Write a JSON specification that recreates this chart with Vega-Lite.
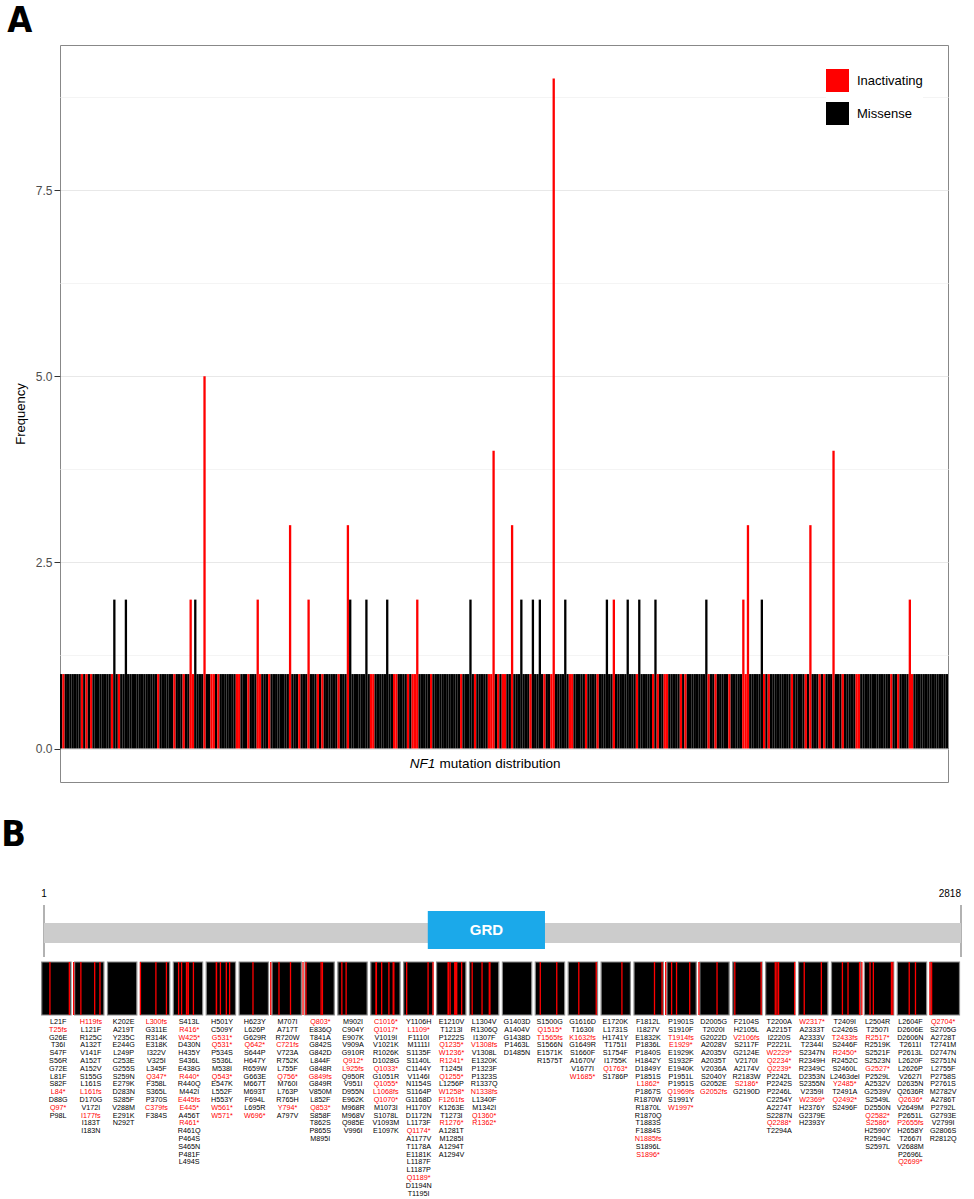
{
"$schema": "https://vega.github.io/schema/vega-lite/v6.json",
"padding": {"left": 1, "top": 2, "right": 5, "bottom": 0},
"background": "white",
"config": {"view": {"stroke": null}, "font": "Liberation Sans, Arial, sans-serif"},
"datasets": {"muts": [
{"region":1,"mut":"L21F","pos":21,"type":"Missense","freq":1},{"region":1,"mut":"T25fs","pos":25,"type":"Inactivating","freq":1},{"region":1,"mut":"G26E","pos":26,"type":"Missense","freq":1},{"region":1,"mut":"T36I","pos":36,"type":"Missense","freq":1},{"region":1,"mut":"S47F","pos":47,"type":"Missense","freq":1},{"region":1,"mut":"S56R","pos":56,"type":"Missense","freq":1},{"region":1,"mut":"G72E","pos":72,"type":"Missense","freq":1},{"region":1,"mut":"L81F","pos":81,"type":"Missense","freq":1},{"region":1,"mut":"S82F","pos":82,"type":"Missense","freq":1},{"region":1,"mut":"L84*","pos":84,"type":"Inactivating","freq":1},{"region":1,"mut":"D88G","pos":88,"type":"Missense","freq":1},{"region":1,"mut":"Q97*","pos":97,"type":"Inactivating","freq":1},{"region":1,"mut":"P98L","pos":98,"type":"Missense","freq":1},
{"region":2,"mut":"H119fs","pos":119,"type":"Inactivating","freq":1},{"region":2,"mut":"L121F","pos":121,"type":"Missense","freq":1},{"region":2,"mut":"R125C","pos":125,"type":"Missense","freq":1},{"region":2,"mut":"A132T","pos":132,"type":"Missense","freq":1},{"region":2,"mut":"V141F","pos":141,"type":"Missense","freq":1},{"region":2,"mut":"A152T","pos":152,"type":"Missense","freq":1},{"region":2,"mut":"A152V","pos":152,"type":"Missense","freq":1},{"region":2,"mut":"S155G","pos":155,"type":"Missense","freq":1},{"region":2,"mut":"L161S","pos":161,"type":"Missense","freq":1},{"region":2,"mut":"L161fs","pos":161,"type":"Inactivating","freq":1},{"region":2,"mut":"D170G","pos":170,"type":"Missense","freq":2},{"region":2,"mut":"V172I","pos":172,"type":"Missense","freq":1},{"region":2,"mut":"I177fs","pos":177,"type":"Inactivating","freq":1},{"region":2,"mut":"I183T","pos":183,"type":"Missense","freq":1},{"region":2,"mut":"I183N","pos":183,"type":"Missense","freq":1},
{"region":3,"mut":"K202E","pos":202,"type":"Missense","freq":2},{"region":3,"mut":"A219T","pos":219,"type":"Missense","freq":1},{"region":3,"mut":"Y235C","pos":235,"type":"Missense","freq":1},{"region":3,"mut":"E244G","pos":244,"type":"Missense","freq":1},{"region":3,"mut":"L249P","pos":249,"type":"Missense","freq":1},{"region":3,"mut":"C253E","pos":253,"type":"Missense","freq":1},{"region":3,"mut":"G255S","pos":255,"type":"Missense","freq":1},{"region":3,"mut":"S259N","pos":259,"type":"Missense","freq":1},{"region":3,"mut":"E279K","pos":279,"type":"Missense","freq":1},{"region":3,"mut":"D283N","pos":283,"type":"Missense","freq":1},{"region":3,"mut":"S285F","pos":285,"type":"Missense","freq":1},{"region":3,"mut":"V288M","pos":288,"type":"Missense","freq":1},{"region":3,"mut":"E291K","pos":291,"type":"Missense","freq":1},{"region":3,"mut":"N292T","pos":292,"type":"Missense","freq":1},
{"region":4,"mut":"L300fs","pos":300,"type":"Inactivating","freq":1},{"region":4,"mut":"G311E","pos":311,"type":"Missense","freq":1},{"region":4,"mut":"R314K","pos":314,"type":"Missense","freq":1},{"region":4,"mut":"E318K","pos":318,"type":"Missense","freq":1},{"region":4,"mut":"I322V","pos":322,"type":"Missense","freq":1},{"region":4,"mut":"V325I","pos":325,"type":"Missense","freq":1},{"region":4,"mut":"L345F","pos":345,"type":"Missense","freq":1},{"region":4,"mut":"Q347*","pos":347,"type":"Inactivating","freq":1},{"region":4,"mut":"F358L","pos":358,"type":"Missense","freq":1},{"region":4,"mut":"S365L","pos":365,"type":"Missense","freq":1},{"region":4,"mut":"P370S","pos":370,"type":"Missense","freq":1},{"region":4,"mut":"C379fs","pos":379,"type":"Inactivating","freq":1},{"region":4,"mut":"F384S","pos":384,"type":"Missense","freq":1},
{"region":5,"mut":"S413L","pos":413,"type":"Missense","freq":1},{"region":5,"mut":"R416*","pos":416,"type":"Inactivating","freq":2},{"region":5,"mut":"W425*","pos":425,"type":"Inactivating","freq":1},{"region":5,"mut":"D430N","pos":430,"type":"Missense","freq":2},{"region":5,"mut":"H435Y","pos":435,"type":"Missense","freq":1},{"region":5,"mut":"S436L","pos":436,"type":"Missense","freq":1},{"region":5,"mut":"E438G","pos":438,"type":"Missense","freq":1},{"region":5,"mut":"R440*","pos":440,"type":"Inactivating","freq":5},{"region":5,"mut":"R440Q","pos":440,"type":"Missense","freq":1},{"region":5,"mut":"M442I","pos":442,"type":"Missense","freq":1},{"region":5,"mut":"E445fs","pos":445,"type":"Inactivating","freq":1},{"region":5,"mut":"E445*","pos":445,"type":"Inactivating","freq":1},{"region":5,"mut":"A456T","pos":456,"type":"Missense","freq":1},{"region":5,"mut":"R461*","pos":461,"type":"Inactivating","freq":1},{"region":5,"mut":"R461Q","pos":461,"type":"Missense","freq":1},{"region":5,"mut":"P464S","pos":464,"type":"Missense","freq":1},{"region":5,"mut":"S465N","pos":465,"type":"Missense","freq":1},{"region":5,"mut":"P481F","pos":481,"type":"Missense","freq":1},{"region":5,"mut":"L494S","pos":494,"type":"Missense","freq":1},
{"region":6,"mut":"H501Y","pos":501,"type":"Missense","freq":1},{"region":6,"mut":"C509Y","pos":509,"type":"Missense","freq":1},{"region":6,"mut":"G531*","pos":531,"type":"Inactivating","freq":1},{"region":6,"mut":"Q531*","pos":531,"type":"Inactivating","freq":1},{"region":6,"mut":"P534S","pos":534,"type":"Missense","freq":1},{"region":6,"mut":"S536L","pos":536,"type":"Missense","freq":1},{"region":6,"mut":"M538I","pos":538,"type":"Missense","freq":1},{"region":6,"mut":"Q543*","pos":543,"type":"Inactivating","freq":1},{"region":6,"mut":"E547K","pos":547,"type":"Missense","freq":1},{"region":6,"mut":"L552F","pos":552,"type":"Missense","freq":1},{"region":6,"mut":"H553Y","pos":553,"type":"Missense","freq":1},{"region":6,"mut":"W561*","pos":561,"type":"Inactivating","freq":2},{"region":6,"mut":"W571*","pos":571,"type":"Inactivating","freq":1},
{"region":7,"mut":"H623Y","pos":623,"type":"Missense","freq":1},{"region":7,"mut":"L626P","pos":626,"type":"Missense","freq":1},{"region":7,"mut":"G629R","pos":629,"type":"Missense","freq":1},{"region":7,"mut":"Q642*","pos":642,"type":"Inactivating","freq":1},{"region":7,"mut":"S644P","pos":644,"type":"Missense","freq":1},{"region":7,"mut":"H647Y","pos":647,"type":"Missense","freq":1},{"region":7,"mut":"R659W","pos":659,"type":"Missense","freq":1},{"region":7,"mut":"G663E","pos":663,"type":"Missense","freq":1},{"region":7,"mut":"M667T","pos":667,"type":"Missense","freq":1},{"region":7,"mut":"M693T","pos":693,"type":"Missense","freq":1},{"region":7,"mut":"F694L","pos":694,"type":"Missense","freq":1},{"region":7,"mut":"L695R","pos":695,"type":"Missense","freq":1},{"region":7,"mut":"W696*","pos":696,"type":"Inactivating","freq":3},
{"region":8,"mut":"M707I","pos":707,"type":"Missense","freq":1},{"region":8,"mut":"A717T","pos":717,"type":"Missense","freq":1},{"region":8,"mut":"R720W","pos":720,"type":"Missense","freq":1},{"region":8,"mut":"C721fs","pos":721,"type":"Inactivating","freq":1},{"region":8,"mut":"V723A","pos":723,"type":"Missense","freq":1},{"region":8,"mut":"R752K","pos":752,"type":"Missense","freq":1},{"region":8,"mut":"L755F","pos":755,"type":"Missense","freq":1},{"region":8,"mut":"Q756*","pos":756,"type":"Inactivating","freq":2},{"region":8,"mut":"M760I","pos":760,"type":"Missense","freq":1},{"region":8,"mut":"L763P","pos":763,"type":"Missense","freq":1},{"region":8,"mut":"R765H","pos":765,"type":"Missense","freq":1},{"region":8,"mut":"Y794*","pos":794,"type":"Inactivating","freq":1},{"region":8,"mut":"A797V","pos":797,"type":"Missense","freq":1},
{"region":9,"mut":"Q803*","pos":803,"type":"Inactivating","freq":1},{"region":9,"mut":"E836Q","pos":836,"type":"Missense","freq":1},{"region":9,"mut":"T841A","pos":841,"type":"Missense","freq":1},{"region":9,"mut":"G842S","pos":842,"type":"Missense","freq":1},{"region":9,"mut":"G842D","pos":842,"type":"Missense","freq":1},{"region":9,"mut":"L844F","pos":844,"type":"Missense","freq":1},{"region":9,"mut":"G848R","pos":848,"type":"Missense","freq":1},{"region":9,"mut":"G849fs","pos":849,"type":"Inactivating","freq":1},{"region":9,"mut":"G849R","pos":849,"type":"Missense","freq":1},{"region":9,"mut":"V850M","pos":850,"type":"Missense","freq":1},{"region":9,"mut":"L852F","pos":852,"type":"Missense","freq":1},{"region":9,"mut":"Q853*","pos":853,"type":"Inactivating","freq":3},{"region":9,"mut":"S858F","pos":858,"type":"Missense","freq":2},{"region":9,"mut":"T862S","pos":862,"type":"Missense","freq":1},{"region":9,"mut":"P865S","pos":865,"type":"Missense","freq":1},{"region":9,"mut":"M895I","pos":895,"type":"Missense","freq":1},
{"region":10,"mut":"M902I","pos":902,"type":"Missense","freq":1},{"region":10,"mut":"C904Y","pos":904,"type":"Missense","freq":1},{"region":10,"mut":"E907K","pos":907,"type":"Missense","freq":1},{"region":10,"mut":"V909A","pos":909,"type":"Missense","freq":2},{"region":10,"mut":"G910R","pos":910,"type":"Missense","freq":1},{"region":10,"mut":"Q912*","pos":912,"type":"Inactivating","freq":1},{"region":10,"mut":"L925fs","pos":925,"type":"Inactivating","freq":1},{"region":10,"mut":"Q950R","pos":950,"type":"Missense","freq":1},{"region":10,"mut":"V951I","pos":951,"type":"Missense","freq":1},{"region":10,"mut":"D955N","pos":955,"type":"Missense","freq":1},{"region":10,"mut":"E962K","pos":962,"type":"Missense","freq":1},{"region":10,"mut":"M968R","pos":968,"type":"Missense","freq":1},{"region":10,"mut":"M968V","pos":968,"type":"Missense","freq":2},{"region":10,"mut":"Q985E","pos":985,"type":"Missense","freq":1},{"region":10,"mut":"V996I","pos":996,"type":"Missense","freq":1},
{"region":11,"mut":"C1016*","pos":1016,"type":"Inactivating","freq":1},{"region":11,"mut":"Q1017*","pos":1017,"type":"Inactivating","freq":1},{"region":11,"mut":"V1019I","pos":1019,"type":"Missense","freq":1},{"region":11,"mut":"V1021K","pos":1021,"type":"Missense","freq":1},{"region":11,"mut":"R1026K","pos":1026,"type":"Missense","freq":1},{"region":11,"mut":"D1028G","pos":1028,"type":"Missense","freq":1},{"region":11,"mut":"Q1033*","pos":1033,"type":"Inactivating","freq":1},{"region":11,"mut":"G1051R","pos":1051,"type":"Missense","freq":1},{"region":11,"mut":"Q1055*","pos":1055,"type":"Inactivating","freq":1},{"region":11,"mut":"L1068fs","pos":1068,"type":"Inactivating","freq":1},{"region":11,"mut":"Q1070*","pos":1070,"type":"Inactivating","freq":2},{"region":11,"mut":"M1073I","pos":1073,"type":"Missense","freq":1},{"region":11,"mut":"S1078L","pos":1078,"type":"Missense","freq":1},{"region":11,"mut":"V1093M","pos":1093,"type":"Missense","freq":1},{"region":11,"mut":"E1097K","pos":1097,"type":"Missense","freq":1},
{"region":12,"mut":"Y1106H","pos":1106,"type":"Missense","freq":1},{"region":12,"mut":"L1109*","pos":1109,"type":"Inactivating","freq":1},{"region":12,"mut":"F1110I","pos":1110,"type":"Missense","freq":1},{"region":12,"mut":"M1111I","pos":1111,"type":"Missense","freq":1},{"region":12,"mut":"S1135F","pos":1135,"type":"Missense","freq":1},{"region":12,"mut":"S1140L","pos":1140,"type":"Missense","freq":1},{"region":12,"mut":"C1144Y","pos":1144,"type":"Missense","freq":1},{"region":12,"mut":"V1146I","pos":1146,"type":"Missense","freq":1},{"region":12,"mut":"N1154S","pos":1154,"type":"Missense","freq":1},{"region":12,"mut":"S1164P","pos":1164,"type":"Missense","freq":1},{"region":12,"mut":"G1168D","pos":1168,"type":"Missense","freq":1},{"region":12,"mut":"H1170Y","pos":1170,"type":"Missense","freq":1},{"region":12,"mut":"D1172N","pos":1172,"type":"Missense","freq":1},{"region":12,"mut":"L1173F","pos":1173,"type":"Missense","freq":1},{"region":12,"mut":"Q1174*","pos":1174,"type":"Inactivating","freq":1},{"region":12,"mut":"A1177V","pos":1177,"type":"Missense","freq":1},{"region":12,"mut":"T1178A","pos":1178,"type":"Missense","freq":1},{"region":12,"mut":"E1181K","pos":1181,"type":"Missense","freq":1},{"region":12,"mut":"L1187F","pos":1187,"type":"Missense","freq":2},{"region":12,"mut":"L1187P","pos":1187,"type":"Missense","freq":1},{"region":12,"mut":"Q1189*","pos":1189,"type":"Inactivating","freq":1},{"region":12,"mut":"D1194N","pos":1194,"type":"Missense","freq":1},{"region":12,"mut":"T1195I","pos":1195,"type":"Missense","freq":1},
{"region":13,"mut":"E1210V","pos":1210,"type":"Missense","freq":1},{"region":13,"mut":"T1213I","pos":1213,"type":"Missense","freq":1},{"region":13,"mut":"P1222S","pos":1222,"type":"Missense","freq":1},{"region":13,"mut":"Q1235*","pos":1235,"type":"Inactivating","freq":1},{"region":13,"mut":"W1236*","pos":1236,"type":"Inactivating","freq":1},{"region":13,"mut":"R1241*","pos":1241,"type":"Inactivating","freq":4},{"region":13,"mut":"T1245I","pos":1245,"type":"Missense","freq":1},{"region":13,"mut":"Q1255*","pos":1255,"type":"Inactivating","freq":1},{"region":13,"mut":"L1256P","pos":1256,"type":"Missense","freq":1},{"region":13,"mut":"W1258*","pos":1258,"type":"Inactivating","freq":1},{"region":13,"mut":"F1261fs","pos":1261,"type":"Inactivating","freq":1},{"region":13,"mut":"K1263E","pos":1263,"type":"Missense","freq":1},{"region":13,"mut":"T1273I","pos":1273,"type":"Missense","freq":1},{"region":13,"mut":"R1276*","pos":1276,"type":"Inactivating","freq":3},{"region":13,"mut":"A1281T","pos":1281,"type":"Missense","freq":1},{"region":13,"mut":"M1285I","pos":1285,"type":"Missense","freq":1},{"region":13,"mut":"A1294T","pos":1294,"type":"Missense","freq":1},{"region":13,"mut":"A1294V","pos":1294,"type":"Missense","freq":2},
{"region":14,"mut":"L1304V","pos":1304,"type":"Missense","freq":1},{"region":14,"mut":"R1306Q","pos":1306,"type":"Missense","freq":1},{"region":14,"mut":"I1307F","pos":1307,"type":"Missense","freq":1},{"region":14,"mut":"V1308fs","pos":1308,"type":"Inactivating","freq":1},{"region":14,"mut":"V1308L","pos":1308,"type":"Missense","freq":2},{"region":14,"mut":"E1320K","pos":1320,"type":"Missense","freq":1},{"region":14,"mut":"P1323F","pos":1323,"type":"Missense","freq":1},{"region":14,"mut":"P1323S","pos":1323,"type":"Missense","freq":2},{"region":14,"mut":"R1337Q","pos":1337,"type":"Missense","freq":1},{"region":14,"mut":"N1338fs","pos":1338,"type":"Inactivating","freq":1},{"region":14,"mut":"L1340F","pos":1340,"type":"Missense","freq":1},{"region":14,"mut":"M1342I","pos":1342,"type":"Missense","freq":1},{"region":14,"mut":"Q1360*","pos":1360,"type":"Inactivating","freq":1},{"region":14,"mut":"R1362*","pos":1362,"type":"Inactivating","freq":9},
{"region":15,"mut":"G1403D","pos":1403,"type":"Missense","freq":1},{"region":15,"mut":"A1404V","pos":1404,"type":"Missense","freq":1},{"region":15,"mut":"G1438D","pos":1438,"type":"Missense","freq":1},{"region":15,"mut":"P1463L","pos":1463,"type":"Missense","freq":1},{"region":15,"mut":"D1485N","pos":1485,"type":"Missense","freq":2},
{"region":16,"mut":"S1500G","pos":1500,"type":"Missense","freq":1},{"region":16,"mut":"Q1515*","pos":1515,"type":"Inactivating","freq":1},{"region":16,"mut":"T1565fs","pos":1565,"type":"Inactivating","freq":1},{"region":16,"mut":"S1566N","pos":1566,"type":"Missense","freq":1},{"region":16,"mut":"E1571K","pos":1571,"type":"Missense","freq":1},{"region":16,"mut":"R1575T","pos":1575,"type":"Missense","freq":1},
{"region":17,"mut":"G1616D","pos":1616,"type":"Missense","freq":1},{"region":17,"mut":"T1630I","pos":1630,"type":"Missense","freq":1},{"region":17,"mut":"K1632fs","pos":1632,"type":"Inactivating","freq":1},{"region":17,"mut":"G1649R","pos":1649,"type":"Missense","freq":1},{"region":17,"mut":"S1660F","pos":1660,"type":"Missense","freq":1},{"region":17,"mut":"A1670V","pos":1670,"type":"Missense","freq":1},{"region":17,"mut":"V1677I","pos":1677,"type":"Missense","freq":1},{"region":17,"mut":"W1685*","pos":1685,"type":"Inactivating","freq":1},
{"region":18,"mut":"E1720K","pos":1720,"type":"Missense","freq":1},{"region":18,"mut":"L1731S","pos":1731,"type":"Missense","freq":1},{"region":18,"mut":"H1741Y","pos":1741,"type":"Missense","freq":1},{"region":18,"mut":"T1751I","pos":1751,"type":"Missense","freq":2},{"region":18,"mut":"S1754F","pos":1754,"type":"Missense","freq":1},{"region":18,"mut":"I1755K","pos":1755,"type":"Missense","freq":1},{"region":18,"mut":"Q1763*","pos":1763,"type":"Inactivating","freq":2},{"region":18,"mut":"S1786P","pos":1786,"type":"Missense","freq":1},
{"region":19,"mut":"F1812L","pos":1812,"type":"Missense","freq":1},{"region":19,"mut":"I1827V","pos":1827,"type":"Missense","freq":1},{"region":19,"mut":"E1832K","pos":1832,"type":"Missense","freq":1},{"region":19,"mut":"P1836L","pos":1836,"type":"Missense","freq":1},{"region":19,"mut":"P1840S","pos":1840,"type":"Missense","freq":2},{"region":19,"mut":"H1842Y","pos":1842,"type":"Missense","freq":1},{"region":19,"mut":"D1849Y","pos":1849,"type":"Missense","freq":1},{"region":19,"mut":"P1851S","pos":1851,"type":"Missense","freq":1},{"region":19,"mut":"L1862*","pos":1862,"type":"Inactivating","freq":1},{"region":19,"mut":"P1867S","pos":1867,"type":"Missense","freq":2},{"region":19,"mut":"R1870W","pos":1870,"type":"Missense","freq":1},{"region":19,"mut":"R1870L","pos":1870,"type":"Missense","freq":1},{"region":19,"mut":"R1870Q","pos":1870,"type":"Missense","freq":1},{"region":19,"mut":"T1883S","pos":1883,"type":"Missense","freq":1},{"region":19,"mut":"F1884S","pos":1884,"type":"Missense","freq":1},{"region":19,"mut":"N1885fs","pos":1885,"type":"Inactivating","freq":1},{"region":19,"mut":"S1896L","pos":1896,"type":"Missense","freq":2},{"region":19,"mut":"S1896*","pos":1896,"type":"Inactivating","freq":1},
{"region":20,"mut":"P1901S","pos":1901,"type":"Missense","freq":1},{"region":20,"mut":"S1910F","pos":1910,"type":"Missense","freq":1},{"region":20,"mut":"T1914fs","pos":1914,"type":"Inactivating","freq":1},{"region":20,"mut":"E1929*","pos":1929,"type":"Inactivating","freq":1},{"region":20,"mut":"E1929K","pos":1929,"type":"Missense","freq":1},{"region":20,"mut":"S1932F","pos":1932,"type":"Missense","freq":1},{"region":20,"mut":"E1940K","pos":1940,"type":"Missense","freq":1},{"region":20,"mut":"P1951L","pos":1951,"type":"Missense","freq":1},{"region":20,"mut":"P1951S","pos":1951,"type":"Missense","freq":1},{"region":20,"mut":"Q1969fs","pos":1969,"type":"Inactivating","freq":1},{"region":20,"mut":"S1991Y","pos":1991,"type":"Missense","freq":1},{"region":20,"mut":"W1997*","pos":1997,"type":"Inactivating","freq":1},
{"region":21,"mut":"D2005G","pos":2005,"type":"Missense","freq":1},{"region":21,"mut":"T2020I","pos":2020,"type":"Missense","freq":1},{"region":21,"mut":"G2022D","pos":2022,"type":"Missense","freq":1},{"region":21,"mut":"A2028V","pos":2028,"type":"Missense","freq":1},{"region":21,"mut":"A2035V","pos":2035,"type":"Missense","freq":1},{"region":21,"mut":"A2035T","pos":2035,"type":"Missense","freq":1},{"region":21,"mut":"V2036A","pos":2036,"type":"Missense","freq":1},{"region":21,"mut":"S2040Y","pos":2040,"type":"Missense","freq":1},{"region":21,"mut":"G2052E","pos":2052,"type":"Missense","freq":2},{"region":21,"mut":"G2052fs","pos":2052,"type":"Inactivating","freq":1},
{"region":22,"mut":"F2104S","pos":2104,"type":"Missense","freq":1},{"region":22,"mut":"H2105L","pos":2105,"type":"Missense","freq":1},{"region":22,"mut":"V2106fs","pos":2106,"type":"Inactivating","freq":1},{"region":22,"mut":"S2117F","pos":2117,"type":"Missense","freq":1},{"region":22,"mut":"G2124E","pos":2124,"type":"Missense","freq":1},{"region":22,"mut":"V2170I","pos":2170,"type":"Missense","freq":1},{"region":22,"mut":"A2174V","pos":2174,"type":"Missense","freq":1},{"region":22,"mut":"R2183W","pos":2183,"type":"Missense","freq":1},{"region":22,"mut":"S2186*","pos":2186,"type":"Inactivating","freq":1},{"region":22,"mut":"G2190D","pos":2190,"type":"Missense","freq":1},
{"region":23,"mut":"T2200A","pos":2200,"type":"Missense","freq":1},{"region":23,"mut":"A2215T","pos":2215,"type":"Missense","freq":1},{"region":23,"mut":"I2220S","pos":2220,"type":"Missense","freq":1},{"region":23,"mut":"P2221L","pos":2221,"type":"Missense","freq":1},{"region":23,"mut":"W2229*","pos":2229,"type":"Inactivating","freq":2},{"region":23,"mut":"Q2234*","pos":2234,"type":"Inactivating","freq":1},{"region":23,"mut":"Q2239*","pos":2239,"type":"Inactivating","freq":3},{"region":23,"mut":"P2242L","pos":2242,"type":"Missense","freq":1},{"region":23,"mut":"P2242S","pos":2242,"type":"Missense","freq":1},{"region":23,"mut":"P2246L","pos":2246,"type":"Missense","freq":1},{"region":23,"mut":"C2254Y","pos":2254,"type":"Missense","freq":1},{"region":23,"mut":"A2274T","pos":2274,"type":"Missense","freq":1},{"region":23,"mut":"S2287N","pos":2287,"type":"Missense","freq":2},{"region":23,"mut":"Q2288*","pos":2288,"type":"Inactivating","freq":1},{"region":23,"mut":"T2294A","pos":2294,"type":"Missense","freq":1},
{"region":24,"mut":"W2317*","pos":2317,"type":"Inactivating","freq":1},{"region":24,"mut":"A2333T","pos":2333,"type":"Missense","freq":1},{"region":24,"mut":"A2333V","pos":2333,"type":"Missense","freq":1},{"region":24,"mut":"T2344I","pos":2344,"type":"Missense","freq":1},{"region":24,"mut":"S2347N","pos":2347,"type":"Missense","freq":1},{"region":24,"mut":"R2349H","pos":2349,"type":"Missense","freq":1},{"region":24,"mut":"R2349C","pos":2349,"type":"Missense","freq":1},{"region":24,"mut":"D2353N","pos":2353,"type":"Missense","freq":1},{"region":24,"mut":"S2355N","pos":2355,"type":"Missense","freq":1},{"region":24,"mut":"V2359I","pos":2359,"type":"Missense","freq":1},{"region":24,"mut":"W2369*","pos":2369,"type":"Inactivating","freq":1},{"region":24,"mut":"H2376Y","pos":2376,"type":"Missense","freq":1},{"region":24,"mut":"G2379E","pos":2379,"type":"Missense","freq":1},{"region":24,"mut":"H2393Y","pos":2393,"type":"Missense","freq":1},
{"region":25,"mut":"T2409I","pos":2409,"type":"Missense","freq":1},{"region":25,"mut":"C2426S","pos":2426,"type":"Missense","freq":1},{"region":25,"mut":"T2433fs","pos":2433,"type":"Inactivating","freq":1},{"region":25,"mut":"S2446F","pos":2446,"type":"Missense","freq":1},{"region":25,"mut":"R2450*","pos":2450,"type":"Inactivating","freq":3},{"region":25,"mut":"R2452C","pos":2452,"type":"Missense","freq":1},{"region":25,"mut":"S2460L","pos":2460,"type":"Missense","freq":1},{"region":25,"mut":"L2463del","pos":2463,"type":"Missense","freq":1},{"region":25,"mut":"Y2485*","pos":2485,"type":"Inactivating","freq":1},{"region":25,"mut":"T2491A","pos":2491,"type":"Missense","freq":1},{"region":25,"mut":"Q2492*","pos":2492,"type":"Inactivating","freq":1},{"region":25,"mut":"S2496F","pos":2496,"type":"Missense","freq":1},
{"region":26,"mut":"L2504R","pos":2504,"type":"Missense","freq":1},{"region":26,"mut":"T2507I","pos":2507,"type":"Missense","freq":1},{"region":26,"mut":"R2517*","pos":2517,"type":"Inactivating","freq":4},{"region":26,"mut":"R2519K","pos":2519,"type":"Missense","freq":1},{"region":26,"mut":"S2521F","pos":2521,"type":"Missense","freq":1},{"region":26,"mut":"S2523N","pos":2523,"type":"Missense","freq":1},{"region":26,"mut":"G2527*","pos":2527,"type":"Inactivating","freq":1},{"region":26,"mut":"P2529L","pos":2529,"type":"Missense","freq":1},{"region":26,"mut":"A2532V","pos":2532,"type":"Missense","freq":1},{"region":26,"mut":"G2539V","pos":2539,"type":"Missense","freq":1},{"region":26,"mut":"S2549L","pos":2549,"type":"Missense","freq":1},{"region":26,"mut":"D2550N","pos":2550,"type":"Missense","freq":1},{"region":26,"mut":"Q2582*","pos":2582,"type":"Inactivating","freq":1},{"region":26,"mut":"S2586*","pos":2586,"type":"Inactivating","freq":1},{"region":26,"mut":"H2590Y","pos":2590,"type":"Missense","freq":1},{"region":26,"mut":"R2594C","pos":2594,"type":"Missense","freq":1},{"region":26,"mut":"S2597L","pos":2597,"type":"Missense","freq":1},
{"region":27,"mut":"L2604F","pos":2604,"type":"Missense","freq":1},{"region":27,"mut":"D2606E","pos":2606,"type":"Missense","freq":1},{"region":27,"mut":"D2606N","pos":2606,"type":"Missense","freq":1},{"region":27,"mut":"T2611I","pos":2611,"type":"Missense","freq":1},{"region":27,"mut":"P2613L","pos":2613,"type":"Missense","freq":1},{"region":27,"mut":"L2620F","pos":2620,"type":"Missense","freq":1},{"region":27,"mut":"L2626P","pos":2626,"type":"Missense","freq":1},{"region":27,"mut":"V2627I","pos":2627,"type":"Missense","freq":1},{"region":27,"mut":"D2635N","pos":2635,"type":"Missense","freq":1},{"region":27,"mut":"Q2636R","pos":2636,"type":"Missense","freq":1},{"region":27,"mut":"Q2636*","pos":2636,"type":"Inactivating","freq":1},{"region":27,"mut":"V2649M","pos":2649,"type":"Missense","freq":1},{"region":27,"mut":"P2651L","pos":2651,"type":"Missense","freq":1},{"region":27,"mut":"P2655fs","pos":2655,"type":"Inactivating","freq":1},{"region":27,"mut":"H2658Y","pos":2658,"type":"Missense","freq":1},{"region":27,"mut":"T2667I","pos":2667,"type":"Missense","freq":1},{"region":27,"mut":"V2688M","pos":2688,"type":"Missense","freq":1},{"region":27,"mut":"P2696L","pos":2696,"type":"Missense","freq":1},{"region":27,"mut":"Q2699*","pos":2699,"type":"Inactivating","freq":2},
{"region":28,"mut":"Q2704*","pos":2704,"type":"Inactivating","freq":1},{"region":28,"mut":"S2705G","pos":2705,"type":"Missense","freq":1},{"region":28,"mut":"A2728T","pos":2728,"type":"Missense","freq":1},{"region":28,"mut":"T2741M","pos":2741,"type":"Missense","freq":1},{"region":28,"mut":"D2747N","pos":2747,"type":"Missense","freq":1},{"region":28,"mut":"S2751N","pos":2751,"type":"Missense","freq":1},{"region":28,"mut":"L2755F","pos":2755,"type":"Missense","freq":1},{"region":28,"mut":"P2758S","pos":2758,"type":"Missense","freq":1},{"region":28,"mut":"P2761S","pos":2761,"type":"Missense","freq":1},{"region":28,"mut":"M2782V","pos":2782,"type":"Missense","freq":1},{"region":28,"mut":"A2786T","pos":2786,"type":"Missense","freq":1},{"region":28,"mut":"P2792L","pos":2792,"type":"Missense","freq":1},{"region":28,"mut":"G2793E","pos":2793,"type":"Missense","freq":1},{"region":28,"mut":"V2799I","pos":2799,"type":"Missense","freq":1},{"region":28,"mut":"G2806S","pos":2806,"type":"Missense","freq":1},{"region":28,"mut":"R2812Q","pos":2812,"type":"Missense","freq":1}
]},
"vconcat": [
{
 "width": 888, "height": 737,
 "title": {"text": "A", "anchor": "start", "frame": "bounds", "fontSize": 36, "fontWeight": "bold", "font": "Liberation Sans Narrow, DejaVu Sans Condensed, sans-serif", "offset": 5, "dx": -7},
 "view": {"stroke": "#888888", "strokeWidth": 1},
 "data": {"name": "muts"},
 "layer": [
  {"mark": {"type": "bar"},
   "encoding": {
    "x": {"field": "mut", "type": "nominal", "sort": null, "axis": null, "scale": {"paddingInner": 0, "paddingOuter": 0}},
    "y": {"field": "freq", "type": "quantitative", "scale": {"domain": [-0.45, 9.45], "nice": false, "zero": false},
      "axis": {"values": [0, 1.25, 2.5, 3.75, 5, 6.25, 7.5, 8.75],
        "labelExpr": "datum.value % 2.5 === 0 ? format(datum.value, '.1f') : ''",
        "gridColor": {"condition": {"test": "datum.value % 2.5 !== 0", "value": "#f4f4f4"}, "value": "#e8e8e8"},
        "tickOpacity": {"condition": {"test": "datum.value % 2.5 !== 0", "value": 0}, "value": 1},
        "title": "Frequency", "titleFontSize": 13, "titleFontWeight": "normal", "titleColor": "#000000", "titlePadding": 8,
        "labelFontSize": 12, "labelColor": "#4d4d4d", "labelPadding": 2, "tickSize": 6, "tickColor": "#333333", "domain": false}},
    "y2": {"datum": 0},
    "color": {"field": "type", "type": "nominal", "scale": {"domain": ["Inactivating", "Missense"], "range": ["#ff0000", "#000000"]},
      "legend": {"title": null, "orient": "none", "legendX": 766, "legendY": 24, "symbolType": "square", "symbolSize": 529, "symbolStrokeWidth": 0, "symbolOpacity": 1, "labelFontSize": 13, "labelOffset": 8, "rowPadding": 10, "fillColor": "white", "padding": 0, "labelColor": "#000000"}}
   }},
  {"data": {"values": [{"label": "NF1"}]},
   "mark": {"type": "text", "align": "right", "baseline": "middle", "fontStyle": "italic", "fontSize": 13.5},
   "encoding": {"x": {"datum": 0.4225, "type": "quantitative", "scale": {"domain": [0, 1], "nice": false, "zero": false}, "axis": null},
     "y": {"datum": -0.21, "type": "quantitative"}, "text": {"field": "label"}}},
  {"data": {"values": [{"label": "mutation distribution"}]},
   "mark": {"type": "text", "align": "left", "baseline": "middle", "fontSize": 13.5},
   "encoding": {"x": {"datum": 0.4275, "type": "quantitative", "scale": {"domain": [0, 1], "nice": false, "zero": false}, "axis": null},
     "y": {"datum": -0.21, "type": "quantitative"}, "text": {"field": "label"}}}
 ],
 "resolve": {"scale": {"x": "independent"}}
},
{
 "spacing": 0,
 "bounds": "flush",
 "resolve": {"scale": {"x": "independent", "y": "independent"}},
 "vconcat": [
  {
   "width": 888, "height": 80,
   "title": {"text": "B", "anchor": "start", "frame": "bounds", "fontSize": 36, "fontWeight": "bold", "font": "Liberation Sans Narrow, DejaVu Sans Condensed, sans-serif", "offset": 28, "dx": -40},
   "layer": [
    {"data": {"values": [{"pos": 1}, {"pos": 2818}]},
     "mark": {"type": "rule", "color": "#999999", "strokeWidth": 1.5},
     "encoding": {"x": {"field": "pos", "type": "quantitative", "scale": {"domain": [1, 2818], "range": [-16, 901], "nice": false, "zero": false}, "axis": null},
       "y": {"datum": 0.0625, "type": "quantitative", "scale": {"domain": [0, 1], "nice": false, "zero": false}, "axis": null},
       "y2": {"datum": 0.7125}}},
    {"data": {"values": [{"start": 1, "end": 2818}]},
     "mark": {"type": "rect", "color": "#cccccc"},
     "encoding": {"x": {"field": "start", "type": "quantitative"}, "x2": {"field": "end"},
       "y": {"datum": 0.2375, "type": "quantitative"}, "y2": {"datum": 0.4875}}},
    {"data": {"values": [{"domain": "GRD", "start": 1180, "end": 1540}]},
     "layer": [
      {"mark": {"type": "rect", "color": "#1ba9ea"},
       "encoding": {"x": {"field": "start", "type": "quantitative"}, "x2": {"field": "end"},
         "y": {"datum": 0.1625, "type": "quantitative"}, "y2": {"datum": 0.6375}}},
      {"mark": {"type": "text", "color": "white", "fontWeight": "bold", "fontSize": 15, "dx": 58.6, "align": "center", "baseline": "middle"},
       "encoding": {"x": {"field": "start", "type": "quantitative"}, "y": {"datum": 0.4, "type": "quantitative"}, "text": {"field": "domain"}}}
     ]},
    {"data": {"values": [{"pos": 1, "label": "1"}, {"pos": 2818, "label": "2818"}]},
     "layer": [
      {"transform": [{"filter": "datum.pos === 1"}],
       "mark": {"type": "text", "fontSize": 10, "align": "center", "baseline": "middle"},
       "encoding": {"x": {"field": "pos", "type": "quantitative"}, "y": {"datum": 0.85, "type": "quantitative"}, "text": {"field": "label"}}},
      {"transform": [{"filter": "datum.pos === 2818"}],
       "mark": {"type": "text", "fontSize": 10, "align": "right", "baseline": "middle"},
       "encoding": {"x": {"field": "pos", "type": "quantitative"}, "y": {"datum": 0.85, "type": "quantitative"}, "text": {"field": "label"}}}
     ]}
   ]
  },
  {
   "width": 888, "height": 53,
   "data": {"name": "muts"},
   "layer": [
    {"transform": [{"aggregate": [{"op": "count", "as": "n"}], "groupby": ["region"]}],
     "mark": {"type": "rect", "fill": "#000000", "stroke": "#888888", "strokeWidth": 1.2},
     "encoding": {"x": {"field": "region", "type": "ordinal", "sort": null, "axis": null,
       "scale": {"range": [-18.3, 899.5], "paddingInner": 0.11, "paddingOuter": 0}}}},
    {"transform": [{"filter": "datum.type === 'Inactivating'"}],
     "mark": {"type": "rule", "color": "#ff0000", "strokeWidth": 1.3},
     "encoding": {"x": {"field": "pos", "type": "quantitative", "axis": null,
       "scale": {"domain": [0, 2800], "range": [-18.3, 903.2], "nice": false, "zero": false}}}}
   ],
   "resolve": {"scale": {"x": "independent"}}
  },
  {
   "width": 888, "height": 186,
   "data": {"name": "muts"},
   "transform": [
    {"window": [{"op": "row_number", "as": "rank"}], "groupby": ["region"]}
   ],
   "mark": {"type": "text", "fontSize": 7.2, "font": "Liberation Sans Narrow, Arial Narrow, Liberation Sans, sans-serif", "align": "center", "baseline": "middle"},
   "encoding": {
    "x": {"field": "region", "type": "ordinal", "sort": null, "axis": null,
      "scale": {"range": [-18.3, 899.5], "paddingInner": 0.11, "paddingOuter": 0}},
    "y": {"field": "rank", "type": "quantitative", "scale": {"domain": [0.103, 23.95], "reverse": true, "nice": false, "zero": false}, "axis": null},
    "text": {"field": "mut"},
    "color": {"condition": {"test": "datum.type === 'Inactivating'", "value": "#ff0000"}, "value": "#000000"}
   }
  }
 ]
}
],
"spacing": 34,
"resolve": {"scale": {"x": "independent", "y": "independent", "color": "independent"}}
}
